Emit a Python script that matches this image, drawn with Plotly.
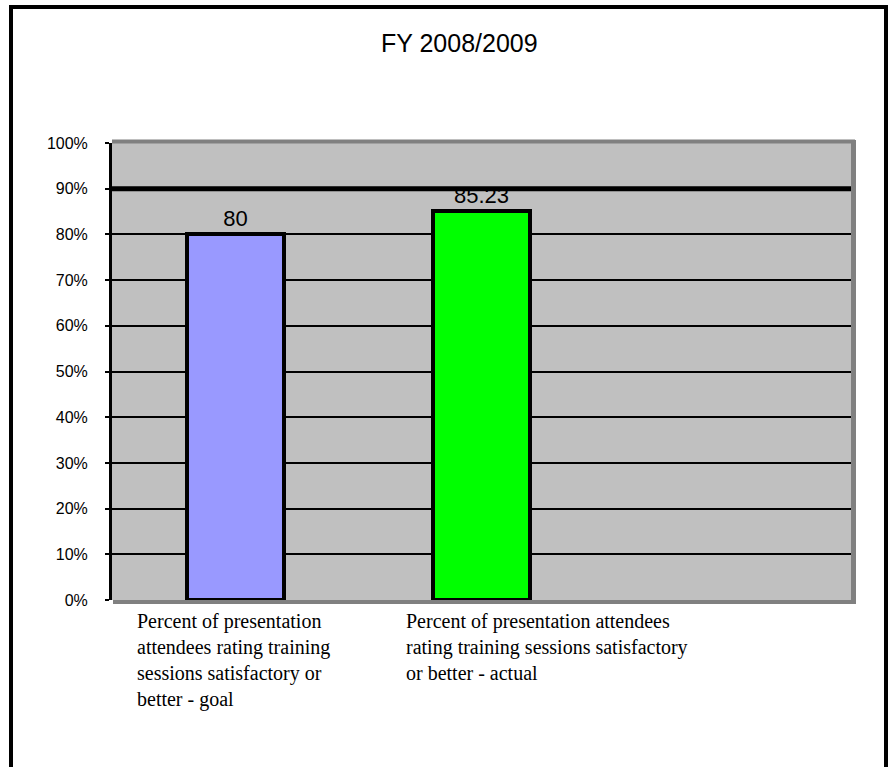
import plotly.graph_objects as go

# ---- data ----
chart_title = "FY 2008/2009"
category_labels = [
    "Percent of presentation<br>attendees rating training<br>sessions satisfactory or<br>better - goal",
    "Percent of presentation attendees<br>rating training sessions satisfactory<br>or better - actual",
]
category_pos = [0, 1]
values = [80, 85.23]
bar_colors = ["#9999FF", "#00FF00"]
target = 90
y_ticks = list(range(0, 101, 10))

# ---- page geometry ----
W, H = 891, 767
L, R, T, B = 112, 40, 143, 167
PW, PH = W - L - R, H - T - B


def px_x(px):
    return (px - L) / PW


def px_y(py):
    return 1 - (py - T) / PH


SANS = "Liberation Sans, Arial, sans-serif"
SERIF = "Liberation Serif, Times New Roman, serif"

fig = go.Figure()

fig.add_trace(go.Bar(
    x=category_pos,
    y=values,
    width=0.395,
    marker=dict(color=bar_colors, line=dict(color="black", width=4)),
    text=[f"{v:g}" for v in values],
    textposition="outside",
    textfont=dict(family=SANS, size=22, color="black"),
    cliponaxis=False,
    showlegend=False,
    hoverinfo="skip",
))

# goal line
fig.add_shape(type="line", xref="paper", yref="y", x0=0, x1=1,
              y0=target, y1=target,
              line=dict(color="black", width=5), layer="below")

gray = "#808080"
# plot-area border (top, right, bottom)
fig.add_shape(type="line", xref="paper", yref="paper",
              x0=0, x1=px_x(855), y0=px_y(141.5), y1=px_y(141.5),
              line=dict(color=gray, width=4), layer="above")
fig.add_shape(type="line", xref="paper", yref="paper",
              x0=px_x(853.5), x1=px_x(853.5), y0=px_y(140), y1=px_y(604),
              line=dict(color=gray, width=5), layer="above")
fig.add_shape(type="line", xref="paper", yref="paper",
              x0=px_x(113), x1=px_x(856), y0=px_y(602), y1=px_y(602),
              line=dict(color=gray, width=4), layer="above")
# outer frame
fig.add_shape(type="path", xref="paper", yref="paper",
              path=(f"M {px_x(11)},{px_y(790)} L {px_x(11)},{px_y(7)} "
                    f"L {px_x(886)},{px_y(7)} L {px_x(886)},{px_y(790)}"),
              line=dict(color="black", width=4), layer="above")

annotations = [
    dict(text=chart_title, xref="paper", yref="paper",
         x=px_x(459), y=px_y(43), xanchor="center", yanchor="middle",
         showarrow=False, font=dict(family=SANS, size=25, color="black")),
]
shifts = [-100, -78]
for pos, lab, sh in zip(category_pos, category_labels, shifts):
    annotations.append(dict(
        text=lab, xref="x", yref="paper", x=pos, y=0,
        xanchor="left", yanchor="top", xshift=sh, yshift=-8,
        align="left", showarrow=False,
        font=dict(family=SERIF, size=20, color="black"),
    ))

fig.update_layout(
    width=W, height=H,
    margin=dict(l=L, r=R, t=T, b=B, pad=0),
    paper_bgcolor="white",
    plot_bgcolor="#C0C0C0",
    annotations=annotations,
    bargap=0,
)

fig.update_xaxes(
    range=[-0.5, 2.5], showticklabels=False, showgrid=False,
    zeroline=False, showline=False, ticks="", fixedrange=True,
)
fig.update_yaxes(
    range=[0, 100], tickvals=y_ticks, ticktext=[f"{t}%" for t in y_ticks],
    showgrid=True, gridcolor="black", gridwidth=2,
    zeroline=False, showline=True, linecolor="black", linewidth=3,
    ticks="outside", ticklen=4, tickwidth=2, tickcolor="black",
    ticklabelstandoff=14,
    tickfont=dict(family=SANS, size=16, color="black"),
    fixedrange=True,
)

fig.write_html("out.html")
